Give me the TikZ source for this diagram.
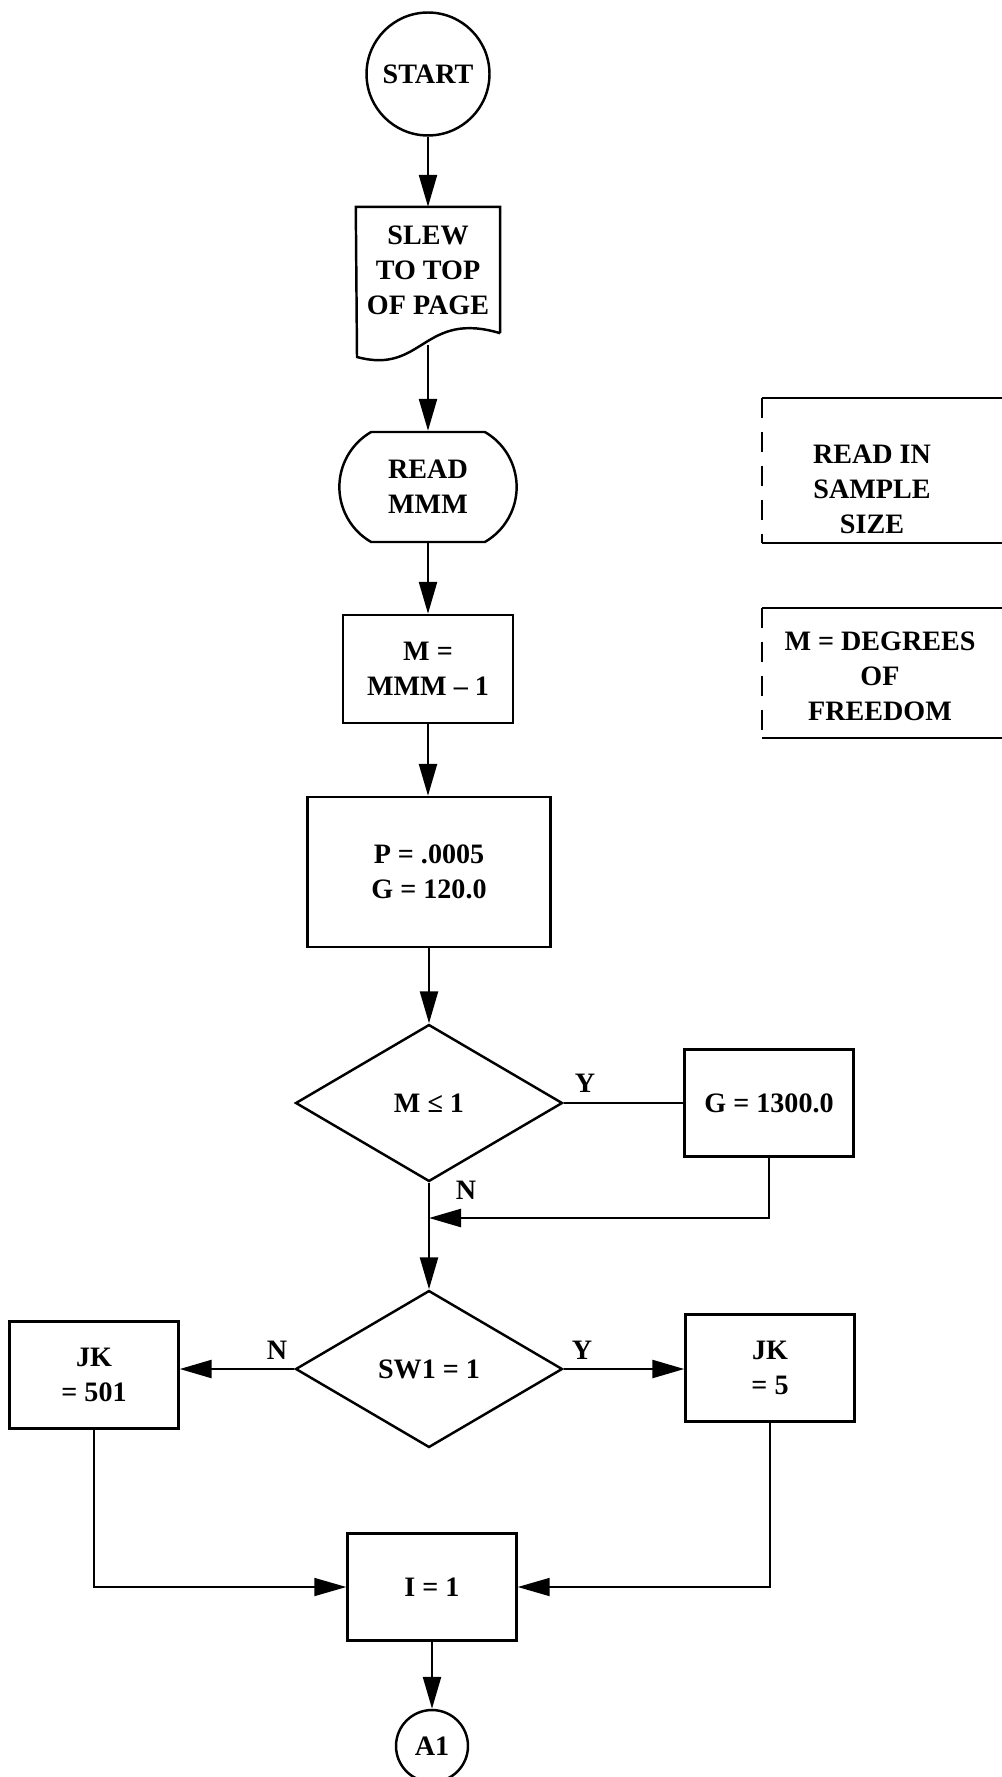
\documentclass[tikz,border=0pt]{standalone}
\usepackage{fontspec}
\setmainfont{Liberation Serif}
\usetikzlibrary{shapes.geometric,shapes.misc,arrows.meta}

\begin{document}
\begin{tikzpicture}[x=0.02cm,y=-0.02cm,line width=1.4pt,
  every node/.style={font=\bfseries\fontsize{16}{20}\selectfont,align=center},
  box/.style={draw,rectangle,minimum width=3.38cm,minimum height=2.14cm},
  decision/.style={draw,diamond,minimum width=5.34cm,minimum height=3.14cm,inner sep=0pt},
  connector/.style={draw,circle,inner sep=0pt},
  flow/.style={-{Triangle[length=6.4mm,width=3.6mm]}},
  back/.style={flow,line width=1pt},
  note/.style={line width=1.2pt},
  notedash/.style={note,dash pattern=on 0.4cm off 0.28cm}]
\useasboundingbox (0,0) rectangle (1001,1777);

\node (start) [connector,minimum size=2.46cm] at (428,74) {START};
\node (slew) [minimum width=2.84cm,minimum height=2.48cm] at (428,270) {SLEW\\TO TOP\\OF PAGE};
\coordinate (slew-sw) at (357,357);
\coordinate (slew-out) at (428,345);
\draw (slew.south east) -- (slew.north east) -- (slew.north west) -- (slew-sw)
  .. controls (423,375) and (423,310) .. (slew.south east);
\node (read) [draw,rounded rectangle,rounded rectangle arc length=120,minimum width=3.78cm,minimum height=2.2cm] at (428,487) {READ\\MMM};
\node (mset) [box,minimum width=3.4cm,minimum height=2.16cm] at (428,669) {M =\\MMM – 1};
\node (pset) [box,minimum width=4.86cm,minimum height=3cm] at (429,872) {P = .0005\\G = 120.0};
\node (test1) [decision] at (429,1103) {M ≤ 1};
\node (gset) [box] at (769,1103) {G = 1300.0};
\coordinate (join) at (429,1218);
\node (test2) [decision] at (429,1369) {SW1 = 1};
\node (jkno) [box] at (94,1375) {JK\\= 501};
\node (jkyes) [box] at (770,1368) {JK\\= 5};
\node (iset) [box] at (432,1587) {I = 1};
\node (a1) [connector,minimum size=1.44cm] at (432,1746) {A1};

\node (ylab1) at (585,1083) {Y};
\node (nlab1) at (466,1190) {N};
\node (nlab2) at (277,1350) {N};
\node (ylab2) at (582,1350) {Y};

\draw [flow] (start.south) -- (slew.north);
\draw [flow] (slew-out) -- (read.north);
\draw [flow] (read.south) -- (mset.north);
\draw [flow] (mset.south) -- (mset.south |- pset.north);
\draw [flow] (pset.south) -- (test1.north);
\draw (test1.east) -- (gset.west);
\draw (test1.south) -- (join);
\draw [flow] (gset.south) |- (join);
\draw [flow] (join) -- (test2.north);
\draw [flow] (test2.west) -- (test2.west -| jkno.east);
\draw [flow] (test2.east) -- (test2.east -| jkyes.west);
\draw [back] (jkno.south) |- (iset.west);
\draw [back] (jkyes.south) |- (iset.east);
\draw [flow] (iset.south) -- (a1.north);

\node (note1) at (872,489) {READ IN\\SAMPLE\\SIZE};
\draw [note] (1010,398) -- (762,398) (762,543) -- (1010,543);
\draw [notedash] (762,398) -- (762,543);
\node (note2) at (880,676) {M = DEGREES\\OF\\FREEDOM};
\draw [note] (1010,608) -- (762,608) (762,738) -- (1010,738);
\draw [notedash] (762,608) -- (762,738);
\end{tikzpicture}
\end{document}
